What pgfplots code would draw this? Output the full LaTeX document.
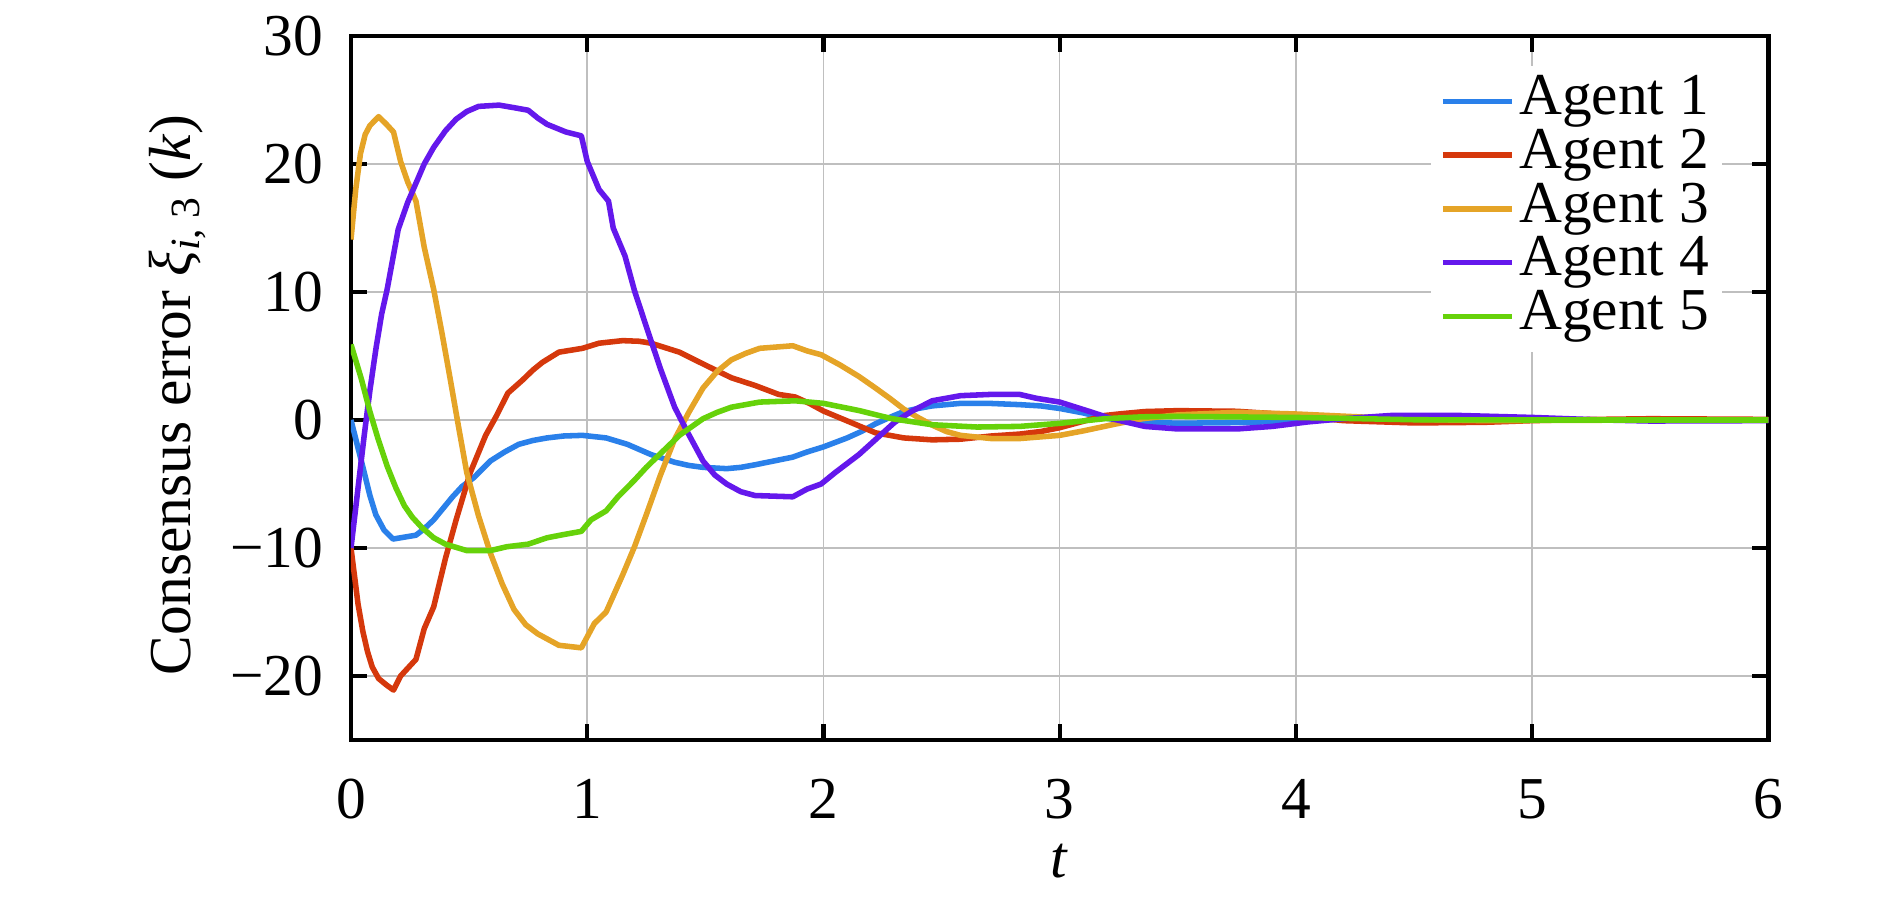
\documentclass[border=0pt]{standalone}
\usepackage{fontspec}
\setmainfont{Liberation Serif}
\usepackage{pgfplots}
\pgfplotsset{compat=1.18}
\definecolor{aone}{RGB}{42,128,234}
\definecolor{atwo}{RGB}{213,56,12}
\definecolor{athree}{RGB}{229,164,39}
\definecolor{afour}{RGB}{100,24,236}
\definecolor{afive}{RGB}{102,210,10}
\newcommand{\fsz}{\fontsize{19.8}{23}\selectfont}
\begin{document}
\begin{tikzpicture}
\useasboundingbox (-117pt,-52.67pt) rectangle (513pt,246.67pt);
\begin{axis}[
  scale only axis,
  width=472.5pt, height=234.67pt,
  xmin=0, xmax=6, ymin=-25, ymax=30,
  xtick={0,1,2,3,4,5,6},
  ytick={-20,-10,0,10,20,30},
  yticklabels={−20,−10,0,10,20,30},
  xticklabels={0,1,2,3,4,5,6},
  xtick pos=both, ytick pos=both,
  tick align=inside,
  major tick length=5.5pt,
  tick style={line width=1.45pt, black},
  axis line style={line width=1.45pt, black},
  grid=major,
  major grid style={black!25, line width=0.5pt},
  xticklabel style={font=\fsz, anchor=base, inner sep=0pt, yshift=-26.3pt},
  yticklabel style={font=\fsz, anchor=east, inner sep=0pt, xshift=-9pt},
  xlabel={\textit{t}},
  ylabel={Consensus error \textit{ξ}\textsubscript{\textit{i}, 3} (\textit{k})},
  xlabel style={font=\fsz, at={(axis description cs:0.5,0)}, anchor=base, inner sep=0pt, yshift=-45.7pt},
  ylabel style={font=\fsz, at={(axis description cs:-0.1016,0.49)}, anchor=south, inner sep=0pt},
  legend cell align=left,
  legend image code/.code={\draw[#1] (0pt,0pt) -- (23pt,0pt);},
  legend style={font=\fsz, draw=none, fill=white, inner sep=3pt,
    at={(0.7616,0.9587)}, anchor=north west,
    nodes={inner xsep=1.5pt, inner ysep=0pt, text height=13.4pt, text depth=4.5pt}, row sep=0pt},
  every axis plot/.append style={line width=1.85pt, line join=round},
]
\addplot[aone] coordinates {
(0,0) (0.03,-2.2) (0.056,-4.1) (0.08,-5.9) (0.105,-7.4) (0.14,-8.6) (0.178,-9.3)
(0.275,-9.0) (0.31,-8.5) (0.35,-7.8) (0.39,-6.9) (0.43,-6.0) (0.47,-5.2) (0.52,-4.5)
(0.59,-3.2) (0.65,-2.5) (0.71,-1.9) (0.77,-1.6) (0.83,-1.4) (0.9,-1.25) (0.98,-1.2)
(1.03,-1.3) (1.08,-1.4) (1.17,-1.9) (1.27,-2.7) (1.37,-3.3) (1.43,-3.55) (1.49,-3.7)
(1.59,-3.8) (1.65,-3.7) (1.71,-3.5) (1.79,-3.2) (1.87,-2.9) (1.93,-2.5) (2.0,-2.1)
(2.1,-1.4) (2.16,-0.9) (2.22,-0.3) (2.28,0.2) (2.34,0.66) (2.4,0.9) (2.46,1.1)
(2.58,1.3) (2.7,1.3) (2.83,1.2) (2.92,1.1) (3.0,0.9) (3.1,0.55) (3.19,0.15)
(3.31,-0.15) (3.5,-0.25) (3.8,-0.2) (4.1,0.05) (4.4,0.1) (4.7,0.05) (5.0,0)
(5.5,-0.02) (6,0)
};
\addlegendentry{Agent 1}
\addplot[atwo] coordinates {
(0,-10) (0.03,-14.4) (0.05,-16.5) (0.07,-18.1) (0.09,-19.3) (0.117,-20.2) (0.15,-20.7)
(0.18,-21.1) (0.21,-20.0) (0.275,-18.7) (0.31,-16.3) (0.35,-14.6) (0.4,-10.8)
(0.445,-7.8) (0.505,-4.1) (0.57,-1.2) (0.615,0.3) (0.664,2.1) (0.725,3.1) (0.77,3.9)
(0.81,4.5) (0.88,5.3) (0.98,5.6) (1.05,6.0) (1.15,6.2) (1.22,6.15) (1.27,6.0)
(1.39,5.3) (1.51,4.2) (1.61,3.3) (1.71,2.7) (1.81,2.0) (1.88,1.8) (1.94,1.3)
(2.0,0.7) (2.1,-0.07) (2.22,-1.0) (2.34,-1.4) (2.46,-1.55) (2.58,-1.5) (2.71,-1.25)
(2.83,-1.1) (2.92,-0.9) (3.0,-0.6) (3.1,-0.1) (3.19,0.35) (3.25,0.47) (3.36,0.66)
(3.5,0.73) (3.75,0.68) (3.9,0.5) (4.0,0.34) (4.2,-0.05) (4.5,-0.23) (4.8,-0.18)
(5.0,-0.05) (5.2,0.03) (5.5,0.1) (6,0.05)
};
\addlegendentry{Agent 2}
\addplot[athree] coordinates {
(0,14.1) (0.02,18) (0.04,20.8) (0.06,22.3) (0.08,23.0) (0.117,23.7) (0.15,23.1)
(0.18,22.5) (0.21,20.2) (0.24,18.6) (0.275,17.1) (0.31,13.5) (0.35,10.2) (0.385,6.8)
(0.42,3.2) (0.455,-0.5) (0.49,-4.1) (0.54,-7.5) (0.59,-10.4) (0.64,-12.8) (0.69,-14.8)
(0.74,-16.0) (0.79,-16.7) (0.88,-17.6) (0.975,-17.8) (1.03,-15.9) (1.08,-15.0)
(1.15,-12.1) (1.2,-9.9) (1.25,-7.4) (1.31,-4.3) (1.37,-1.5) (1.43,0.6) (1.49,2.5)
(1.55,3.8) (1.61,4.7) (1.67,5.2) (1.73,5.6) (1.87,5.8) (1.93,5.4) (1.99,5.1)
(2.07,4.3) (2.15,3.4) (2.22,2.5) (2.28,1.7) (2.34,0.85) (2.4,0.2) (2.46,-0.4)
(2.52,-0.9) (2.58,-1.2) (2.71,-1.45) (2.83,-1.45) (3.0,-1.2) (3.1,-0.85) (3.24,-0.3)
(3.35,0.1) (3.5,0.4) (3.75,0.6) (4.0,0.47) (4.2,0.3) (4.5,0.05) (4.8,-0.05)
(5.2,-0.02) (6,0)
};
\addlegendentry{Agent 3}
\addplot[afour] coordinates {
(0,-10) (0.028,-5.6) (0.056,-1.2) (0.08,2.3) (0.105,5.5) (0.13,8.3) (0.153,10.2)
(0.2,14.9) (0.24,17.0) (0.275,18.5) (0.31,20.0) (0.35,21.3) (0.4,22.6) (0.445,23.5)
(0.49,24.1) (0.54,24.5) (0.627,24.6) (0.69,24.4) (0.75,24.2) (0.79,23.6) (0.83,23.1)
(0.91,22.5) (0.975,22.2) (1.0,20.2) (1.05,18.0) (1.09,17.1) (1.11,15.0) (1.16,12.8)
(1.2,10.1) (1.25,7.3) (1.31,4.0) (1.37,1.0) (1.42,-0.8) (1.49,-3.2) (1.54,-4.3)
(1.59,-5.0) (1.65,-5.6) (1.71,-5.9) (1.87,-6.0) (1.93,-5.4) (1.99,-5.0) (2.05,-4.1)
(2.15,-2.7) (2.24,-1.2) (2.3,-0.2) (2.37,0.65) (2.46,1.5) (2.58,1.9) (2.71,2.0)
(2.83,2.0) (2.9,1.7) (3.0,1.4) (3.12,0.7) (3.22,0.1) (3.36,-0.5) (3.5,-0.7)
(3.75,-0.7) (3.9,-0.5) (4.05,-0.15) (4.2,0.1) (4.4,0.35) (4.7,0.35) (5.0,0.2)
(5.3,0) (5.5,-0.08) (6,-0.05)
};
\addlegendentry{Agent 4}
\addplot[afive] coordinates {
(0,5.9) (0.044,3.2) (0.08,0.66) (0.115,-1.5) (0.153,-3.6) (0.19,-5.3) (0.226,-6.7)
(0.26,-7.6) (0.3,-8.4) (0.35,-9.2) (0.4,-9.7) (0.49,-10.2) (0.59,-10.2) (0.66,-9.9)
(0.75,-9.7) (0.83,-9.2) (0.9,-8.95) (0.975,-8.7) (1.016,-7.8) (1.08,-7.1) (1.13,-6.0)
(1.2,-4.7) (1.25,-3.7) (1.3,-2.8) (1.39,-1.2) (1.49,0.1) (1.55,0.6) (1.61,1.0)
(1.73,1.4) (1.88,1.5) (2.0,1.3) (2.15,0.74) (2.29,0.1) (2.46,-0.37) (2.65,-0.55)
(2.83,-0.5) (3.0,-0.26) (3.19,0.1) (3.35,0.25) (3.5,0.28) (4.0,0.2) (4.5,0.02)
(5,0) (6,0)
};
\addlegendentry{Agent 5}
\end{axis}
\end{tikzpicture}
\end{document}
